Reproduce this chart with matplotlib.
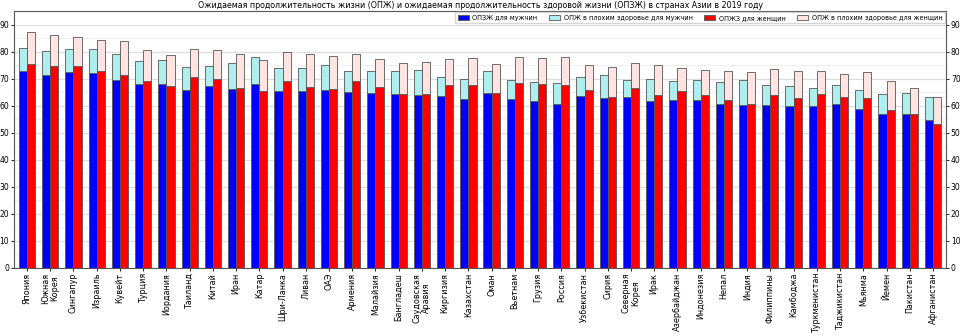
import matplotlib
matplotlib.use("Agg")
import matplotlib.pyplot as plt
import numpy as np

countries = ["Япония", "Южная\nКорея", "Сингапур", "Израиль", "Кувейт", "Турция", "Иордания",
             "Таиланд", "Китай", "Иран", "Катар", "Шри-Ланка", "Ливан", "ОАЭ", "Армения",
             "Малайзия", "Бангладеш", "Саудовская\nАравия", "Киргизия", "Казахстан", "Оман",
             "Вьетнам", "Грузия", "Россия", "Узбекистан", "Сирия", "Северная\nКорея", "Ирак",
             "Азербайджан", "Индонезия", "Непал", "Индия", "Филиппины", "Камбоджа",
             "Туркменистан", "Таджикистан", "Мьянма", "Йемен", "Пакистан", "Афганистан"]

male_hale = [72.7, 71.4, 72.4, 72.0, 69.6, 68.0, 68.2, 65.9, 67.4, 66.1, 68.1, 65.3, 65.3, 65.9,
             65.1, 64.7, 64.3, 63.8, 63.5, 62.4, 64.7, 62.4, 61.6, 60.7, 63.5, 62.7, 63.3, 61.8,
             62.2, 62.1, 60.7, 60.3, 60.1, 59.9, 59.9, 60.8, 58.9, 57.0, 56.9, 54.8]
male_le = [81.4, 80.4, 80.9, 80.9, 79.3, 76.5, 77.0, 74.4, 74.6, 75.7, 78.0, 73.9, 74.1, 75.1,
           72.7, 72.7, 73.0, 73.2, 70.7, 69.8, 73.0, 69.5, 68.8, 68.3, 70.8, 71.2, 69.5, 69.8,
           69.0, 69.5, 68.8, 69.5, 67.5, 67.2, 66.5, 67.6, 65.8, 64.3, 64.7, 63.4]
female_hale = [75.6, 74.8, 74.8, 72.9, 71.2, 69.2, 67.4, 70.7, 70.0, 66.5, 65.4, 69.2, 67.0, 66.3,
               69.2, 66.9, 64.4, 64.4, 67.7, 67.5, 64.7, 68.3, 68.0, 67.5, 65.9, 63.4, 66.6, 63.8,
               65.3, 63.8, 62.2, 60.5, 63.9, 62.9, 64.4, 63.2, 62.8, 58.3, 56.8, 53.3]
female_le = [87.1, 86.1, 85.5, 84.2, 83.9, 80.5, 78.7, 81.0, 80.5, 79.2, 76.8, 79.8, 79.2, 78.4,
             79.2, 77.2, 75.7, 76.1, 77.3, 77.6, 75.4, 78.2, 77.7, 78.0, 75.2, 74.3, 75.7, 75.1,
             74.0, 73.2, 72.8, 72.3, 73.5, 72.8, 73.0, 71.7, 72.3, 69.0, 66.6, 63.2]

labels = ["ОПЗЖ для мужчин", "ОПЖ в плохим здоровье для мужчин",
          "ОПЖЗ для женщин", "ОПЖ в плохим здоровье для женщин"]

mh = np.array(male_hale); ml = np.array(male_le)
fh = np.array(female_hale); fl = np.array(female_le)
x = np.arange(len(countries))
w = 0.35

fig = plt.figure(figsize=(9.6, 3.36), dpi=100)
ax = fig.add_axes([0.0146, 0.2024, 0.9708, 0.7646])
ec = "#555555"
lw = 0.6
ax.bar(x - w/2, mh, w, color="#0000ff", edgecolor=ec, linewidth=lw, label=labels[0], zorder=3)
ax.bar(x - w/2, ml - mh, w, bottom=mh, color="#afeeee", edgecolor=ec, linewidth=lw, label=labels[1], zorder=3)
ax.bar(x + w/2, fh, w, color="#ff0000", edgecolor=ec, linewidth=lw, label=labels[2], zorder=3)
ax.bar(x + w/2, fl - fh, w, bottom=fh, color="#ffe4e1", edgecolor=ec, linewidth=lw, label=labels[3], zorder=3)

ax.set_xlim(-0.56, len(countries) - 0.44)
ax.set_ylim(0, 95)
ax.set_yticks(np.arange(0, 91, 10))
ax.set_yticks(np.arange(5, 95, 10), minor=True)
ax.grid(axis="y", which="major", color="#dddddd", linewidth=0.9, zorder=0)
ax.grid(axis="y", which="minor", color="#eeeeee", linewidth=0.7, zorder=0)
ax.tick_params(axis="y", which="minor", length=0)
ax.tick_params(axis="y", labelsize=5.5, length=2.5, width=0.6, right=True, labelright=True, pad=1)
ax.set_xticks(x)
ax.set_xticklabels(countries, rotation=90, fontsize=5.8, linespacing=1.05)
ax.tick_params(axis="x", length=2.5, width=0.6, pad=1)
for s in ax.spines.values():
    s.set_color("#555555")
    s.set_linewidth(0.8)

ax.set_title("Ожидаемая продолжительность жизни (ОПЖ) и ожидаемая продолжительность здоровой жизни (ОПЗЖ) в странах Азии в 2019 году",
             fontsize=5.7, pad=2)
ax.legend(loc="upper right", ncol=4, fontsize=4.7, frameon=True, fancybox=False,
          edgecolor="#cccccc", handlelength=1.7, handleheight=0.8, columnspacing=1.8,
          handletextpad=0.5, borderaxespad=0.15, borderpad=0.4)

fig.savefig("out.png", dpi=100)
